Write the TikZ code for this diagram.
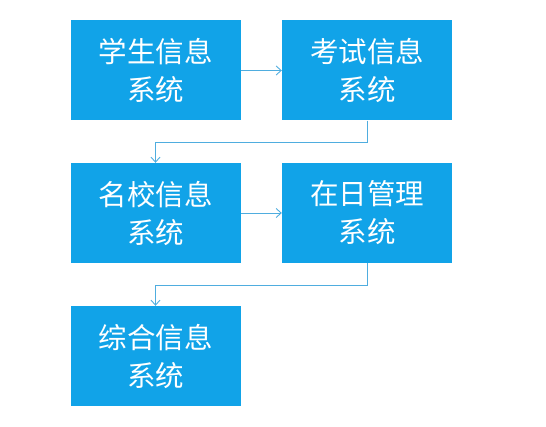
\documentclass[tikz,border=0pt]{standalone}
\usepackage{fontspec}
\newfontfamily\cjk{Noto Sans CJK SC}
\usetikzlibrary{arrows.meta}
\definecolor{boxblue}{HTML}{11A3E8}
\definecolor{lineblue}{HTML}{4FADDF}
\begin{document}
\begin{tikzpicture}[x=1pt,y=-1pt,
  sysbox/.style={fill=boxblue,draw=none,minimum width=170pt,minimum height=100pt,inner sep=0pt,
    text=white,font=\cjk\fontsize{28.5}{38}\selectfont,align=center},
  conn/.style={draw=lineblue,line width=0.9pt,-{Straight Barb[length=5pt,width=9pt]}}]
\useasboundingbox (0,0) rectangle (546,427);
\node[sysbox] (a) at (155.5,70.5) {学生信息\\系统};
\node[sysbox] (b) at (367,70.5) {考试信息\\系统};
\node[sysbox] (c) at (155.5,213) {名校信息\\系统};
\node[sysbox] (d) at (367,213) {在日管理\\系统};
\node[sysbox] (e) at (155.5,356) {综合信息\\系统};
\draw[conn] (a.east) -- (b.west);
\draw[conn] (c.east) -- (d.west);
\draw[conn] (b.south) -- ++(0,22) -| (c.north);
\draw[conn] (d.south) -- ++(0,22) -| (e.north);
\end{tikzpicture}
\end{document}
